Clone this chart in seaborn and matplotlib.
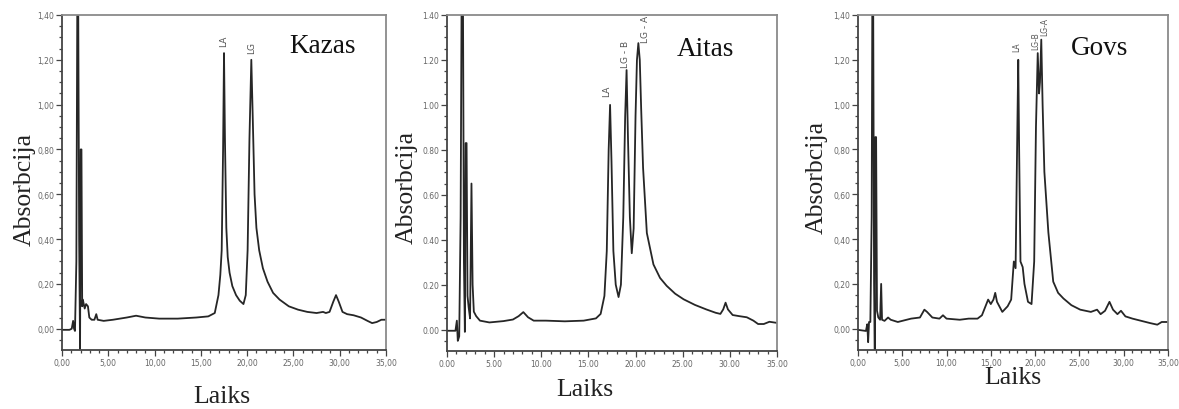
import matplotlib
matplotlib.use("Agg")
import matplotlib.pyplot as plt
from matplotlib.ticker import MultipleLocator, FuncFormatter
import numpy as np
import pandas as pd
import seaborn as sns

# ---- chromatogram traces: retention time (min) and absorbance ----
kazas_time = [0.0, 0.8, 1.05, 1.2, 1.3, 1.4, 1.55, 1.65, 1.75, 1.85, 1.95, 2.02, 2.1, 2.18,
              2.25, 2.45, 2.6, 2.8, 2.95, 3.2, 3.5, 3.7, 3.85, 4.5, 5.5, 7.0, 8.0, 9.0, 10.5,
              12.5, 14.5, 15.8, 16.5, 16.9, 17.1, 17.25, 17.4, 17.5, 17.6, 17.75, 17.9, 18.1,
              18.4, 18.8, 19.2, 19.6, 19.85, 20.05, 20.25, 20.45, 20.6, 20.8, 21.0, 21.3, 21.7,
              22.2, 22.8, 23.5, 24.5, 25.5, 26.5, 27.5, 28.2, 28.5, 28.9, 29.3, 29.6, 29.9,
              30.3, 30.8, 31.5, 32.3, 33.0, 33.5, 34.0, 34.5, 35.0]
kazas_abs = [-0.005, -0.005, 0.0, 0.035, 0.0, -0.01, 0.3, 1.45, 1.45, 0.4, -0.09, 0.80, 0.80, 0.10,
             0.13, 0.09, 0.11, 0.10, 0.05, 0.04, 0.04, 0.065, 0.04, 0.035, 0.04, 0.05, 0.058, 0.05,
             0.045, 0.045, 0.05, 0.055, 0.07, 0.15, 0.24, 0.35, 0.8, 1.23, 0.85, 0.45, 0.32, 0.25,
             0.19, 0.15, 0.125, 0.11, 0.15, 0.35, 0.85, 1.20, 0.95, 0.6, 0.45, 0.35, 0.27,
             0.21, 0.16, 0.13, 0.10, 0.085, 0.075, 0.07, 0.075, 0.07, 0.075, 0.12, 0.15, 0.12,
             0.075, 0.065, 0.06, 0.05, 0.035, 0.025, 0.03, 0.04, 0.04]

aitas_time = [0.0, 0.9, 1.05, 1.15, 1.3, 1.45, 1.55, 1.7, 1.8, 1.9, 1.98, 2.08, 2.18, 2.3, 2.45,
              2.6, 2.72, 2.85, 3.1, 3.5, 4.5, 6.0, 7.0, 7.6, 8.1, 8.6, 9.2, 10.5, 12.5, 14.5,
              15.8, 16.3, 16.7, 16.95, 17.15, 17.3, 17.45, 17.65, 17.9, 18.2, 18.45, 18.7, 18.9,
              19.05, 19.2, 19.4, 19.6, 19.8, 20.0, 20.15, 20.3, 20.45, 20.6, 20.8, 21.2, 21.9,
              22.6, 23.3, 24.2, 25.1, 26.3, 27.5, 28.5, 29.0, 29.3, 29.55, 29.8, 30.3, 31.0,
              31.8, 32.5, 33.0, 33.6, 34.2, 35.0]
aitas_abs = [-0.005, -0.005, 0.04, -0.05, -0.03, 0.5, 1.45, 1.45, 0.3, -0.01, 0.83, 0.83, 0.15,
             0.10, 0.05, 0.65, 0.20, 0.08, 0.06, 0.04, 0.032, 0.038, 0.045, 0.06, 0.078, 0.055,
             0.04, 0.04, 0.037, 0.04, 0.05, 0.07, 0.15, 0.35, 0.8, 1.00, 0.75, 0.35, 0.2, 0.145,
             0.2, 0.5, 0.95, 1.155, 0.85, 0.5, 0.34, 0.45, 0.95, 1.2, 1.275, 1.2, 0.98, 0.72,
             0.43, 0.29, 0.23, 0.195, 0.16, 0.135, 0.11, 0.09, 0.075, 0.07, 0.09, 0.12, 0.09,
             0.065, 0.06, 0.055, 0.04, 0.025, 0.025, 0.035, 0.03]

govs_time = [0.0, 0.9, 1.05, 1.15, 1.25, 1.4, 1.55, 1.62, 1.72, 1.82, 1.9, 1.96, 2.05, 2.15, 2.3,
             2.5, 2.62, 2.72, 3.0, 3.4, 3.7, 4.5, 6.0, 7.0, 7.5, 7.8, 8.4, 9.2, 9.6, 10.0, 11.5,
             12.5, 13.5, 14.0, 14.4, 14.7, 15.0, 15.3, 15.5, 15.7, 16.3, 16.9, 17.3, 17.6, 17.8,
             18.0, 18.1, 18.2, 18.35, 18.6, 18.8, 19.2, 19.6, 19.9, 20.1, 20.3, 20.45, 20.55,
             20.7, 20.85, 21.05, 21.5, 22.05, 22.6, 23.2, 24.1, 25.1, 26.3, 27.0, 27.4, 27.9,
             28.4, 28.8, 29.3, 29.7, 30.2, 31.0, 32.0, 33.0, 33.8, 34.3, 35.0]
govs_abs = [-0.005, -0.01, 0.02, -0.06, 0.03, 0.03, 0.5, 1.45, 1.45, 0.2, -0.1, 0.855, 0.855, 0.08,
            0.05, 0.04, 0.2, 0.04, 0.035, 0.05, 0.04, 0.03, 0.045, 0.05, 0.085, 0.075, 0.05,
            0.045, 0.06, 0.045, 0.04, 0.045, 0.045, 0.06, 0.10, 0.13, 0.11, 0.13, 0.16, 0.12,
            0.075, 0.1, 0.13, 0.30, 0.27, 0.9, 1.20, 0.8, 0.3, 0.275, 0.2, 0.12, 0.11, 0.3, 0.9,
            1.23, 1.05, 1.1, 1.29, 1.0, 0.7, 0.43, 0.21, 0.16, 0.135, 0.105, 0.085, 0.075,
            0.085, 0.065, 0.08, 0.12, 0.085, 0.065, 0.08, 0.055, 0.045, 0.035, 0.025, 0.018,
            0.03, 0.03]

species = ["Kazas", "Aitas", "Govs"]
decimal_marks = [",", ".", ","]

peak_names = [["LA", "LG"], ["LA", "LG - B", "LG - A"], ["LA", "LG-B", "LG-A"]]
peak_times = [[17.5, 20.45], [16.9, 18.9, 21.1], [17.95, 20.05, 21.05]]
peak_label_y = [[1.26, 1.23], [1.04, 1.17, 1.28], [1.24, 1.25, 1.31]]
peak_label_size = [6.5, 6.5, 5.5]

traces = [(kazas_time, kazas_abs), (aitas_time, aitas_abs), (govs_time, govs_abs)]

# ---- layout (figure fractions) ----
axes_rects = [
    [0.0526, 0.1439, 0.2748, 0.8171],
    [0.3791, 0.1415, 0.2799, 0.8195],
    [0.7277, 0.1439, 0.2629, 0.8171],
]
species_xy = [(28.1, 1.265), (27.4, 1.25), (27.3, 1.255)]
ylabel_xy = [(-0.114, 0.481), (-0.121, 0.491), (-0.132, 0.519)]
xlabel_xy = [(0.494, -0.137), (0.418, -0.113), (0.50, -0.081)]

sns.set_theme(style="white")
plt.rcParams["font.family"] = ["DejaVu Sans"]

serif = ["Liberation Serif", "DejaVu Serif"]
line_color = "#262626"

fig = plt.figure(figsize=(11.79, 4.10), dpi=100)
fig.patch.set_facecolor("white")

for i in range(3):
    ax = fig.add_axes(axes_rects[i])
    df = pd.DataFrame({"Laiks": traces[i][0], "Absorbcija": traces[i][1]})
    sns.lineplot(data=df, x="Laiks", y="Absorbcija", ax=ax, estimator=None, sort=False,
                 color=line_color, linewidth=1.3)

    ax.set_xlim(0, 35)
    ax.set_ylim(-0.095, 1.40)

    mark = decimal_marks[i]
    fmt = FuncFormatter(lambda v, pos, m=mark: f"{v:.2f}".replace(".", m))
    ax.xaxis.set_major_locator(MultipleLocator(5))
    ax.xaxis.set_minor_locator(MultipleLocator(1))
    ax.yaxis.set_major_locator(MultipleLocator(0.2))
    ax.yaxis.set_minor_locator(MultipleLocator(0.05))
    ax.xaxis.set_major_formatter(fmt)
    ax.yaxis.set_major_formatter(fmt)

    ax.tick_params(axis="both", which="major", direction="out", length=4, width=0.9,
                   color="#444444", labelsize=5.5, labelcolor="#666666", pad=1.5,
                   bottom=True, left=True)
    ax.tick_params(axis="both", which="minor", direction="out", length=2, width=0.9,
                   color="#444444", bottom=True, left=True)

    for side in ["left", "bottom"]:
        ax.spines[side].set_color("#444444")
        ax.spines[side].set_linewidth(1.3)
    for side in ["top", "right"]:
        ax.spines[side].set_color("#8a8a8a")
        ax.spines[side].set_linewidth(1.3)

    ax.set_ylabel("Absorbcija", family=serif, fontsize=18.5, color="#222222", va="center")
    ax.yaxis.set_label_coords(*ylabel_xy[i])
    ax.set_xlabel("Laiks", family=serif, fontsize=18.5, color="#222222", va="center")
    ax.xaxis.set_label_coords(*xlabel_xy[i])

    ax.text(species_xy[i][0], species_xy[i][1], species[i], family=serif, fontsize=19.5,
            color="#111111", ha="center", va="center")

    for name, t, yl in zip(peak_names[i], peak_times[i], peak_label_y[i]):
        ax.text(t, yl, name, rotation=90, fontsize=peak_label_size[i], color="#555555",
                ha="center", va="bottom")

fig.savefig("out.png", dpi=100, facecolor="white")
